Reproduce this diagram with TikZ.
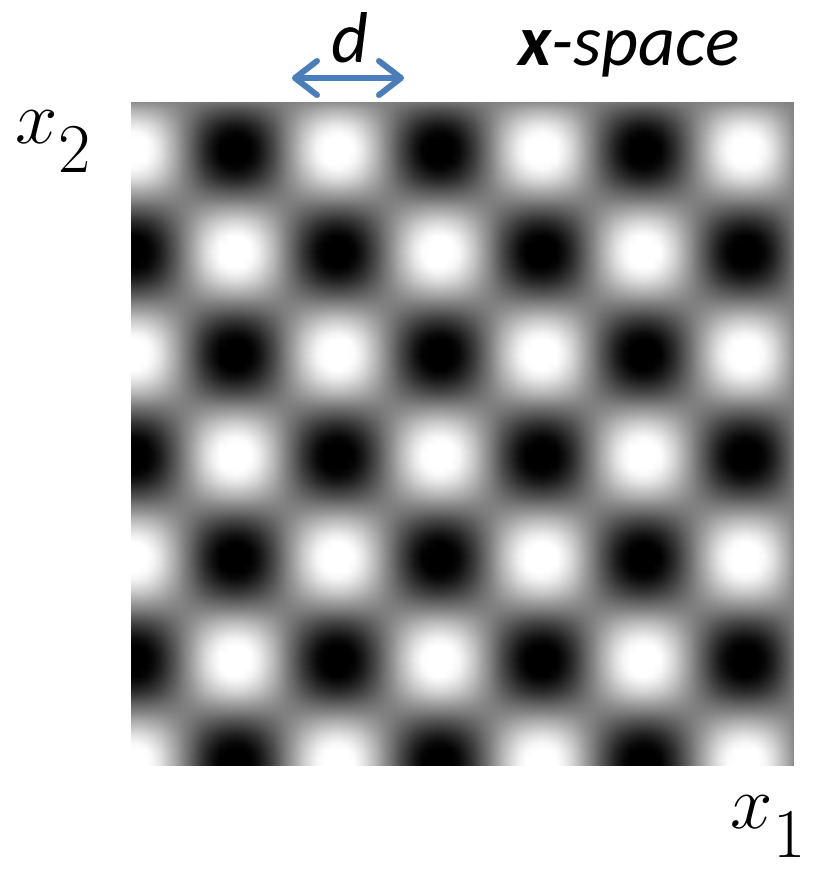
\RequirePackage{fix-cm}
\documentclass[tikz,border=0pt]{standalone}
\usepackage{fontspec}
\usepackage{xcolor}
\usepackage{tikz}
\usepackage{pgfplots}
\pgfplotsset{compat=1.18}
\newfontfamily\calibri{Carlito}
\definecolor{arrowblue}{HTML}{4A7EBB}
\usetikzlibrary{arrows.meta, positioning}

\tikzset{
    axislabel/.style={inner sep=0pt, anchor=base west, font=\fontsize{38}{40}\selectfont},
    spacelabel/.style={inner sep=0pt, font=\calibri\itshape\fontsize{36}{40}\selectfont},
    darrow/.style={arrowblue, line width=3pt,
        {Straight Barb[round, length=11pt, width=17pt]}-{Straight Barb[round, length=11pt, width=17pt]}}
}
\newcommand{\coordname}[1]{$x$\kern0.5pt\raisebox{-14.5pt}{\fontsize{35}{35}\selectfont #1}}

\begin{document}
\begin{tikzpicture}
    % blurred checkerboard, period 2d
    \begin{axis}[at={(65.5pt,-382.5pt)}, anchor=south west, width=331.5pt, height=331.5pt,
        scale only axis, hide axis, view={0}{90},
        xmin=131, xmax=794, ymin=-765, ymax=-102,
        colormap/blackwhite, point meta min=-1, point meta max=1]
        \addplot3[surf, shader=interp, domain=131:794, y domain=-765:-102, samples=90]
            {max(-1, min(1, 1.15*cos(180*(x-133)/102)*cos(180*(y+150)/102)))};
    \end{axis}

    \begin{scope}[x=0.5pt, y=-0.5pt]
    \useasboundingbox (0,0) rectangle (814,869);
    \node[spacelabel, anchor=base west] (space) at (518,65) {\textbf{x}-space};
    \node[spacelabel, anchor=base] (dlabel) at (350,62) {d};
    \coordinate (dleft) at (292,78);
    \coordinate (dright) at (404,78);
    \draw[darrow] (dleft) -- (dright);

    \node[axislabel] (xtwo) at (15,143) {\coordname{2}};
    \node[axislabel] (xone) at (730,828) {\coordname{1}};
    \end{scope}
\end{tikzpicture}
\end{document}
